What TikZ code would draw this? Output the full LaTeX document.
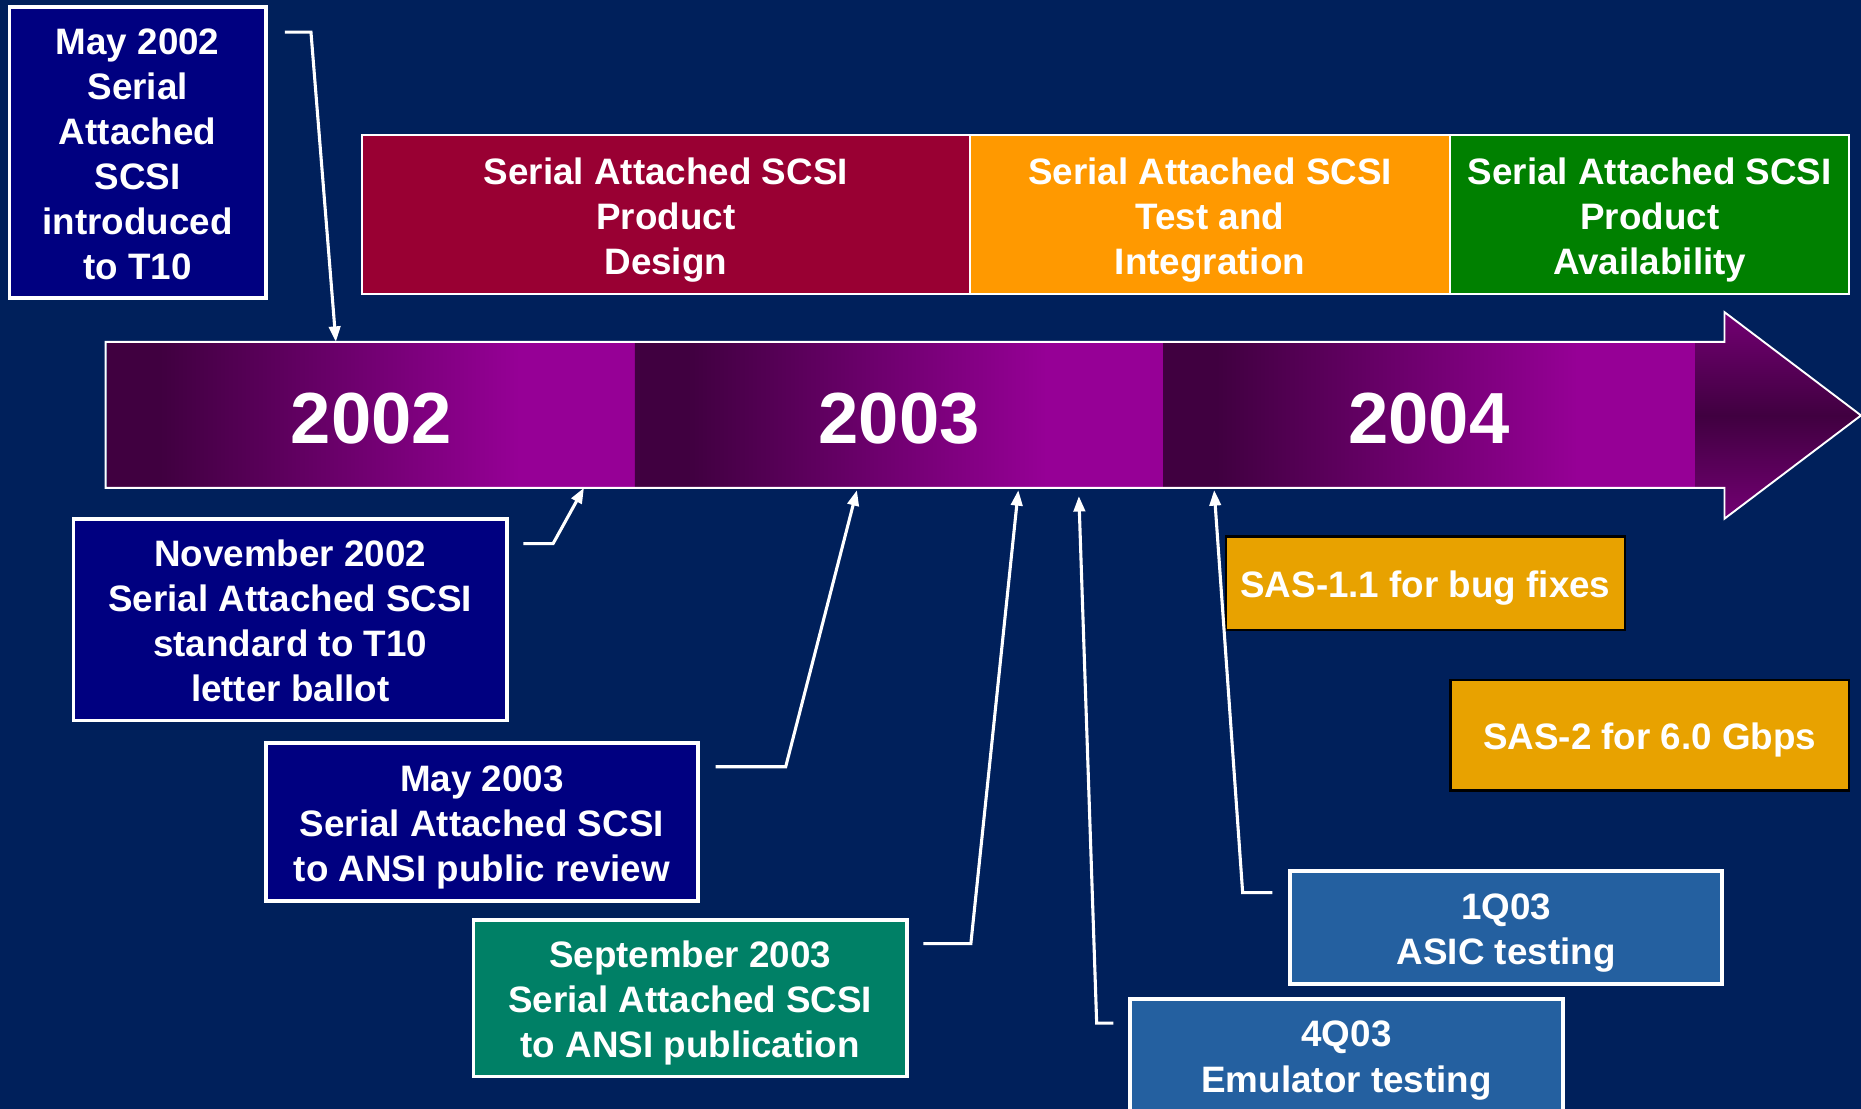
\documentclass[tikz,border=0pt]{standalone}
\usepackage{fontspec}
\setmainfont{Liberation Sans}
\usetikzlibrary{arrows.meta}
\definecolor{bg}{RGB}{0,32,91}
\definecolor{navybox}{RGB}{0,0,128}
\definecolor{redbar}{RGB}{153,0,51}
\definecolor{orangebar}{RGB}{255,153,0}
\definecolor{greenbar}{RGB}{0,128,0}
\definecolor{tealbox}{RGB}{0,128,102}
\definecolor{steelbox}{RGB}{36,96,160}
\definecolor{sasbox}{RGB}{232,162,0}
\definecolor{ydark}{RGB}{64,0,64}
\definecolor{ybright}{RGB}{150,0,150}
\definecolor{hmid}{RGB}{115,0,115}
\pgfdeclarehorizontalshading{yearshade}{100bp}{color(0bp)=(ydark); color(30bp)=(ydark); color(64bp)=(ybright); color(100bp)=(ybright)}
\newcommand\topstrut{\rule{0pt}{15.5pt}}
\begin{document}
\begin{tikzpicture}[x=0.5pt,y=-0.5pt,
  txt/.style={font=\bfseries\fontsize{15.5}{19}\selectfont, text=white, align=center, inner sep=0pt,
    execute at end node={\rule[-3.4pt]{0pt}{3.4pt}}},
  box/.style={txt, draw=white, line width=1.6pt},
  bar/.style={txt, draw=white, line width=0.8pt, minimum height=67pt},
  sas/.style={txt, draw=black, line width=1pt, fill=sasbox, minimum width=168pt},
  yearseg/.style={shading=yearshade, inner sep=0pt, minimum height=61.5pt, text=white,
    font=\bfseries\fontsize{30.5}{36}\selectfont,
    execute at begin node={\rule{0pt}{24.3pt}}},
  conn/.style={draw=white, line width=1.3pt, -{Triangle[length=6.5pt,width=4.8pt]}}]
\fill[bg] (0,0) rectangle (1568,934);
\useasboundingbox (0,0) rectangle (1568,934);
\clip (0,0) rectangle (1568,934);

% top phase bars
\node[bar, fill=redbar, minimum width=256pt] (design) at (561,181) {\topstrut Serial Attached SCSI\\Product\\Design};
\node[bar, fill=orangebar, minimum width=202.5pt] (test) at (1019.5,181) {\topstrut Serial Attached SCSI\\Test and\\Integration};
\node[bar, fill=greenbar, minimum width=168pt] (avail) at (1390,181) {\topstrut Serial Attached SCSI\\Product\\Availability};

% timeline arrow
\shade[top color=hmid, bottom color=hmid, middle color=ydark]
  (1428,288) -- (1453,288) -- (1453,263) -- (1568,350) -- (1453,437) -- (1453,411) -- (1428,411) -- cycle;
\node[yearseg, minimum width=223pt] (y2002) at (313,349.5) {2002};
\node[yearseg, minimum width=222.5pt] (y2003) at (757.5,349.5) {2003};
\node[yearseg, minimum width=224pt] (y2004) at (1204,349.5) {2004};
\draw[white, line width=0.8pt] (89,288) -- (1453,288) -- (1453,263) -- (1568,350) -- (1453,437) -- (1453,411) -- (89,411) -- cycle;

% milestone boxes
\node[box, fill=navybox, minimum width=108pt, minimum height=122.5pt] (may02) at (116,128.5)
  {\topstrut May 2002\\Serial\\Attached\\SCSI\\introduced\\to T10};
\node[box, fill=navybox, minimum width=182.5pt, minimum height=85pt] (nov02) at (244.5,522)
  {\topstrut November 2002\\Serial Attached SCSI\\standard to T10\\letter ballot};
\node[box, fill=navybox, minimum width=182pt, minimum height=66.5pt] (may03) at (406,692.5)
  {\topstrut May 2003\\Serial Attached SCSI\\to ANSI public review};
\node[box, fill=tealbox, minimum width=182.5pt, minimum height=66pt] (sep03) at (581.5,841)
  {\topstrut September 2003\\Serial Attached SCSI\\to ANSI publication};
\node[box, fill=steelbox, minimum width=182.5pt, minimum height=47pt] (q403) at (1134.5,889)
  {\topstrut 4Q03\\Emulator testing};
\node[box, fill=steelbox, minimum width=182pt, minimum height=47.5pt] (q103) at (1269,781.5)
  {\topstrut 1Q03\\ASIC testing};
\node[sas, minimum height=39.5pt] (sas11) at (1201,491.5) {\topstrut SAS-1.1 for bug fixes};
\node[sas, minimum height=46.5pt] (sas2) at (1390,619.5) {\topstrut SAS-2 for 6.0 Gbps};

% connector points
\coordinate (s1) at (240,27);   \coordinate (b1) at (262,27);   \coordinate (t1) at (283,288);
\coordinate (s2) at (441,458);  \coordinate (b2) at (466,458);  \coordinate (t2) at (492,411);
\coordinate (s3) at (603,646);  \coordinate (b3) at (662,646);  \coordinate (t3) at (722,413);
\coordinate (s4) at (778,795);  \coordinate (b4) at (818,795);  \coordinate (t4) at (858,413);
\coordinate (s5) at (938,862);  \coordinate (b5) at (924,862);  \coordinate (t5) at (909,418);
\coordinate (s6) at (1072,752); \coordinate (b6) at (1047,752); \coordinate (t6) at (1023,413);

\draw[conn] (s1) -- (b1) -- (t1);
\draw[conn] (s2) -- (b2) -- (t2);
\draw[conn] (s3) -- (b3) -- (t3);
\draw[conn] (s4) -- (b4) -- (t4);
\draw[conn] (s5) -- (b5) -- (t5);
\draw[conn] (s6) -- (b6) -- (t6);
\end{tikzpicture}
\end{document}
